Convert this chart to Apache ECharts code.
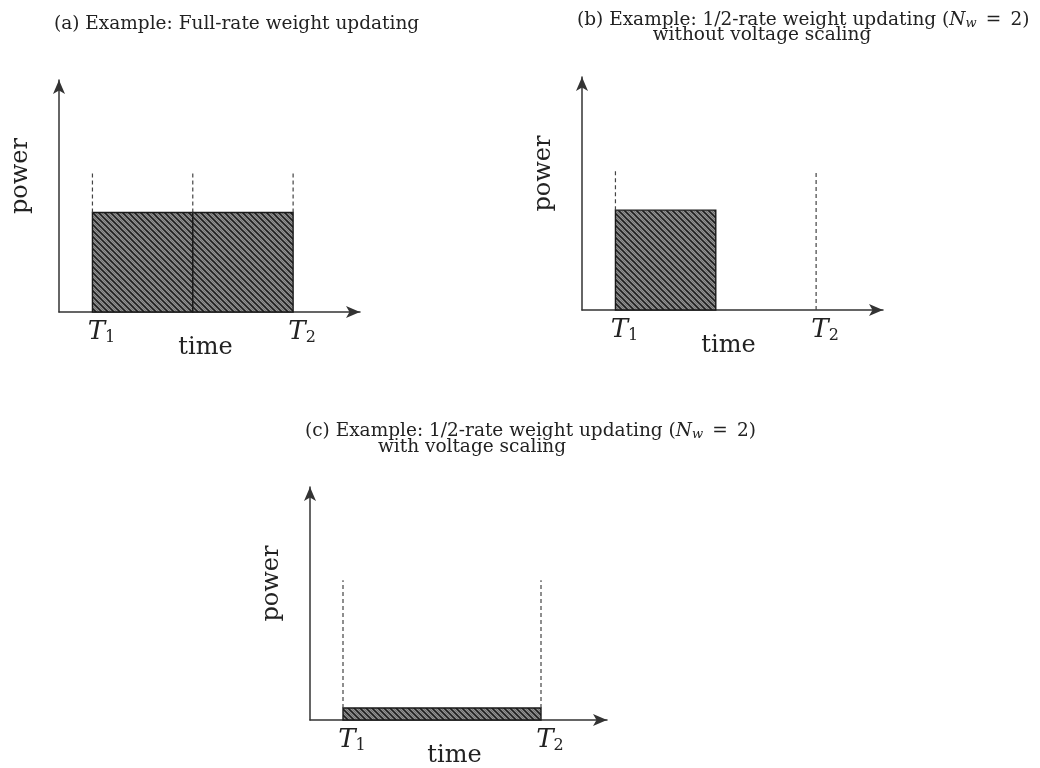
<!DOCTYPE html>
<html>
<head>
<meta charset="utf-8">
<script src="https://cdn.jsdelivr.net/npm/echarts@6/dist/echarts.min.js"></script>
<style>
html,body{margin:0;padding:0;background:#fff;}
#chart{width:1040px;height:768px;}
</style>
</head>
<body>
<div id="chart"></div>
<script>
// ---- data ----
const timeTicks = [1, 7];
const tickBase = ['T', 'T'];
const tickSub = ['1', '2'];
const xAxisName = 'time';
const yAxisName = 'power';

// blocks: [start, end, power]
const panelA_blocks = [[1, 4, 3.0], [4, 7, 3.0]];
const panelB_blocks = [[1, 4, 3.0]];
const panelC_blocks = [[1, 7, 0.36]];

// guides (dashed): [x, fromPower, toPower]
const panelA_guides = [[1, 3.0, 4.2], [4, 3.0, 4.2], [7, 3.0, 4.2]];
const panelB_guides = [[1, 3.0, 4.2], [7, 0, 4.2]];
const panelC_guides = [[1, 0.36, 4.2], [7, 0.36, 4.2]];

const titleA = '(a) Example: Full-rate weight updating';
const titleB1 = '(b) Example: 1/2-rate weight updating ({i|N}{s|w}\u2002=\u20022)';
const titleB2 = 'without voltage scaling';
const titleC1 = '(c) Example: 1/2-rate weight updating ({i|N}{s|w}\u2002=\u20022)';
const titleC2 = 'with voltage scaling';

// ---- hatch pattern ----
function makeHatch() {
  const c = document.createElement('canvas');
  const n = 12;
  c.width = n; c.height = n;
  const ctx = c.getContext('2d');
  ctx.fillStyle = '#949494';
  ctx.fillRect(0, 0, n, n);
  for (let k = -4; k <= 4; k++) {
    const off = k * 3;
    const major = (k % 2 === 0);
    ctx.strokeStyle = major ? '#1e1e1e' : '#6a6a6a';
    ctx.lineWidth = major ? 1.6 : 0.8;
    ctx.beginPath();
    ctx.moveTo(off - 2, -2);
    ctx.lineTo(off + n + 2, n + 2);
    ctx.stroke();
  }
  return c;
}
const hatch = { image: makeHatch(), repeat: 'repeat' };

const serif = 'DejaVu Serif';
const ink = '#222';

const grids = [
  { left: 59, top: 80, width: 301, height: 232, outerBoundsMode: 'none', containLabel: false },
  { left: 582, top: 77, width: 301, height: 233, outerBoundsMode: 'none', containLabel: false },
  { left: 310, top: 487, width: 297, height: 233, outerBoundsMode: 'none', containLabel: false }
];

function xAxisFor(i) {
  return {
    gridIndex: i, type: 'value', min: 0, max: 9, interval: 1,
    name: xAxisName, nameLocation: 'middle', nameGap: 24, nameMoveOverlap: false,
    nameTextStyle: { fontFamily: serif, fontSize: 24, color: ink, padding: [0, 8, 0, 0] },
    axisLine: { show: true, symbol: ['none', 'arrow'], symbolSize: [9, 14], lineStyle: { color: '#333', width: 1.5 } },
    axisTick: { show: false },
    splitLine: { show: false },
    axisLabel: {
      show: true, margin: 6, padding: [0, 0, 0, 18],
      formatter: function (v) {
        const k = timeTicks.indexOf(v);
        return k < 0 ? '' : '{t|' + tickBase[k] + '}{s|' + tickSub[k] + '}';
      },
      rich: {
        t: { fontFamily: serif, fontStyle: 'italic', fontSize: 26, color: ink },
        s: { fontFamily: serif, fontSize: 16, color: ink, padding: [12, 0, 0, 0] }
      }
    }
  };
}
function yAxisFor(i) {
  return {
    gridIndex: i, type: 'value', min: 0, max: 7,
    name: yAxisName, nameLocation: 'middle', nameGap: 26, nameMoveOverlap: false,
    nameTextStyle: { fontFamily: serif, fontSize: 24, color: ink, padding: [0, 0, 0, 40] },
    axisLine: { show: true, symbol: ['none', 'arrow'], symbolSize: [9, 14], lineStyle: { color: '#333', width: 1.5 } },
    axisTick: { show: false },
    splitLine: { show: false },
    axisLabel: { show: false }
  };
}

function blockSeries(i, data) {
  return {
    type: 'custom', xAxisIndex: i, yAxisIndex: i, data: data, z: 2,
    renderItem: function (params, api) {
      const p0 = api.coord([api.value(0), api.value(2)]);
      const p1 = api.coord([api.value(1), 0]);
      return {
        type: 'rect',
        shape: { x: p0[0], y: p0[1], width: p1[0] - p0[0], height: p1[1] - p0[1] },
        style: { fill: hatch, stroke: '#1a1a1a', lineWidth: 1.4 }
      };
    }
  };
}
function guideSeries(i, data) {
  return {
    type: 'custom', xAxisIndex: i, yAxisIndex: i, data: data, z: 3,
    renderItem: function (params, api) {
      const a = api.coord([api.value(0), api.value(1)]);
      const b = api.coord([api.value(0), api.value(2)]);
      return {
        type: 'line',
        shape: { x1: a[0], y1: a[1], x2: b[0], y2: b[1] },
        style: { stroke: '#444', lineWidth: 1.2, lineDash: [4, 3] }
      };
    }
  };
}

const titleRich = {
  i: { fontFamily: serif, fontStyle: 'italic', fontSize: 18.5, color: ink },
  s: { fontFamily: serif, fontStyle: 'italic', fontSize: 13, color: ink, padding: [7, 0, 0, 0] }
};
function mkTitle(text, left, top, align) {
  const t = {
    text: text, left: left, top: top, padding: 0,
    textStyle: { fontFamily: serif, fontSize: 18.5, fontWeight: 'normal', color: ink, lineHeight: 20, rich: titleRich }
  };
  if (align) t.textAlign = align;
  return t;
}

const option = {
  backgroundColor: '#ffffff',
  animation: false,
  title: [
    mkTitle(titleA, 54, 14),
    mkTitle(titleB1, 577, 10),
    mkTitle(titleB2, 762, 25, 'center'),
    mkTitle(titleC1, 305, 421),
    mkTitle(titleC2, 472, 437, 'center')
  ],
  grid: grids,
  xAxis: [xAxisFor(0), xAxisFor(1), xAxisFor(2)],
  yAxis: [yAxisFor(0), yAxisFor(1), yAxisFor(2)],
  series: [
    blockSeries(0, panelA_blocks), guideSeries(0, panelA_guides),
    blockSeries(1, panelB_blocks), guideSeries(1, panelB_guides),
    blockSeries(2, panelC_blocks), guideSeries(2, panelC_guides)
  ]
};

const chart = echarts.init(document.getElementById('chart'), null, { renderer: 'canvas' });
chart.setOption(option);
</script>
</body>
</html>
